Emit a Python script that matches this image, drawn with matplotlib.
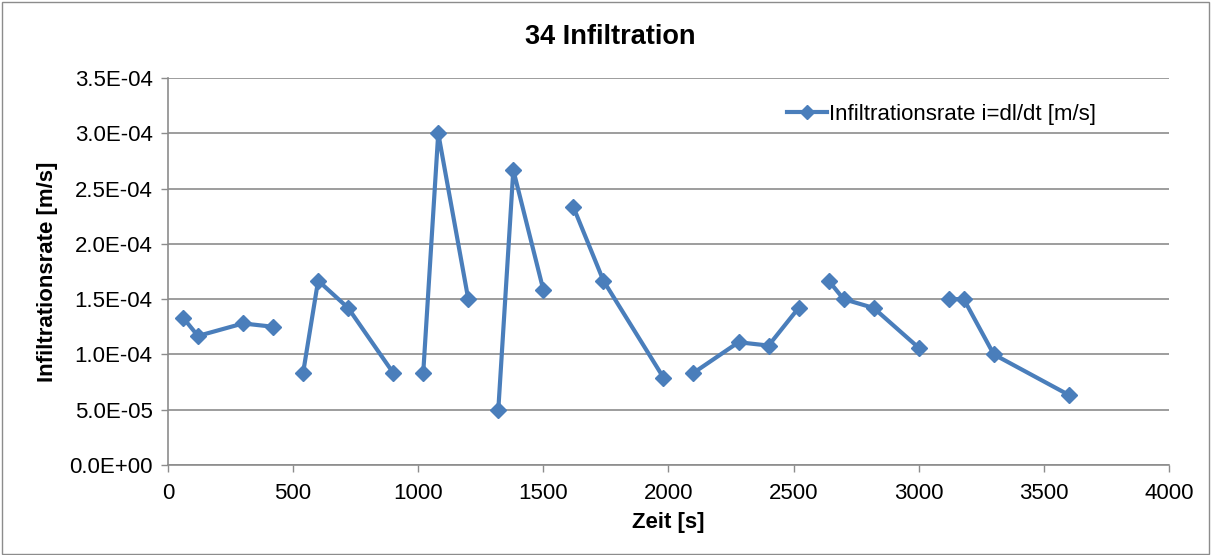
import numpy as np
import matplotlib
matplotlib.use("Agg")
import matplotlib.pyplot as plt
from matplotlib.patches import Rectangle

plt.rcParams['font.family'] = ['Liberation Sans', 'DejaVu Sans']

# Data segments (gaps between segments)
seg_x = [
    [60, 120, 300, 420],
    [540, 600, 720, 900],
    [1020, 1080, 1200],
    [1320, 1380, 1500],
    [1620, 1740, 1980],
    [2100, 2280, 2400, 2520],
    [2640, 2700, 2820, 3000],
    [3120, 3180, 3300, 3600],
]
seg_y = [
    [1.333e-4, 1.167e-4, 1.28e-4, 1.25e-4],
    [0.833e-4, 1.667e-4, 1.42e-4, 0.833e-4],
    [0.833e-4, 3.0e-4, 1.5e-4],
    [0.5e-4, 2.667e-4, 1.583e-4],
    [2.333e-4, 1.667e-4, 0.79e-4],
    [0.833e-4, 1.11e-4, 1.08e-4, 1.42e-4],
    [1.667e-4, 1.5e-4, 1.42e-4, 1.06e-4],
    [1.5e-4, 1.5e-4, 1.0e-4, 0.633e-4],
]
title = "34 Infiltration"
series_label = "Infiltrationsrate i=dl/dt [m/s]"
xlabel = "Zeit [s]"
ylabel = "Infiltrationsrate [m/s]"
xticks = [0, 500, 1000, 1500, 2000, 2500, 3000, 3500, 4000]
yticks = [0.0, 0.5e-4, 1.0e-4, 1.5e-4, 2.0e-4, 2.5e-4, 3.0e-4, 3.5e-4]

x = []
y = []
for sx, sy in zip(seg_x, seg_y):
    if x:
        x.append(np.nan)
        y.append(np.nan)
    x.extend(sx)
    y.extend(sy)

color = '#4A7EBB'
fig = plt.figure(figsize=(12.11, 5.55), dpi=100)
fig.patches.append(Rectangle((0.002, 0.002), 0.996, 0.994, transform=fig.transFigure,
                             fill=False, edgecolor='#8C8C8C', linewidth=1.0))
ax = fig.add_axes([0.1387, 0.1622, 0.8266, 0.6973])
ax.plot(x, y, color=color, linewidth=3.0, marker='D', markersize=8.5,
        markerfacecolor=color, markeredgecolor=color, label=series_label)
ax.set_xlim(0, 4000)
ax.set_ylim(0, 3.5e-4)
ax.set_xticks(xticks)
ax.set_yticks(yticks)
ax.set_xticklabels([str(t) for t in xticks], fontsize=16)
ax.set_yticklabels([f"{t:.1E}" for t in yticks], fontsize=16)
ax.yaxis.grid(True, color='#8C8C8C', linewidth=1.2)
ax.set_axisbelow(True)
for s in ['top', 'right']:
    ax.spines[s].set_visible(False)
for s in ['left', 'bottom']:
    ax.spines[s].set_color('#8C8C8C')
    ax.spines[s].set_linewidth(1.2)
ax.tick_params(axis='both', colors='#8C8C8C', labelcolor='black', length=5, width=1)
ax.tick_params(axis='x', pad=8)
ax.tick_params(axis='y', pad=6)
ax.set_xlabel(xlabel, fontsize=16, fontweight='bold', labelpad=6)
ax.set_ylabel(ylabel, fontsize=16, fontweight='bold', labelpad=8)
fig.text(0.504, 0.933, title, fontsize=19.5, fontweight='bold', ha='center', va='center')
leg = ax.legend(loc='upper right', bbox_to_anchor=(0.936, 0.957), frameon=False,
                fontsize=16, handlelength=1.8, handletextpad=0.1, borderaxespad=0,
                markerscale=0.8)
fig.savefig('out.png', dpi=100)
